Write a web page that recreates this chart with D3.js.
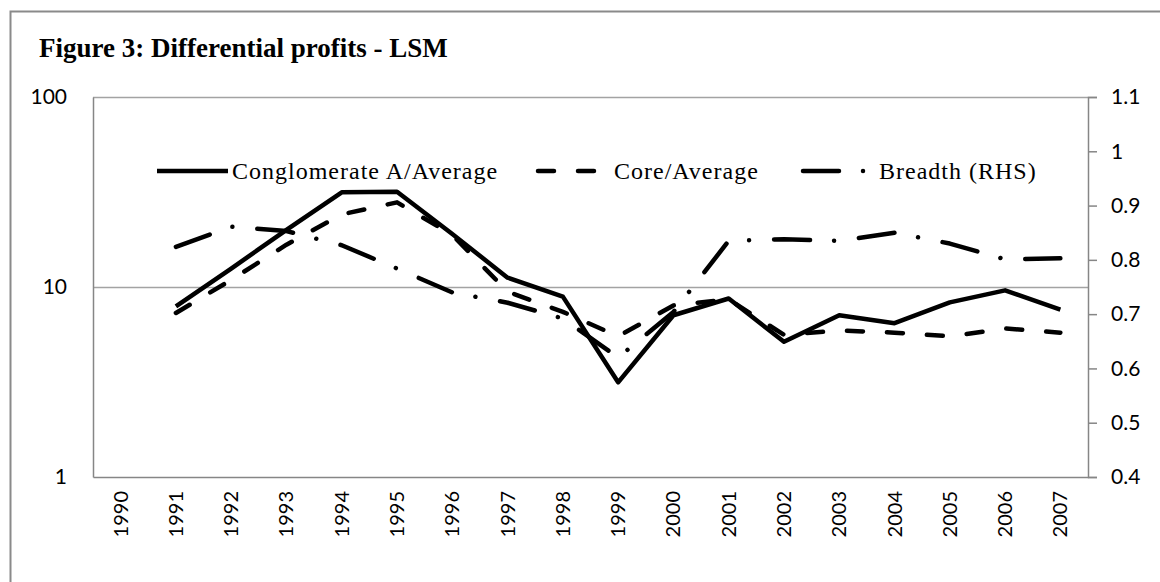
<!DOCTYPE html>
<html>
<head>
<meta charset="utf-8">
<script src="https://cdn.jsdelivr.net/npm/d3@7"></script>
<style>
  body { margin: 0; background: #fff; }
  svg { display: block; }
</style>
</head>
<body>
<div id="chart"></div>
<script>
// data
const years = ["1990","1991","1992","1993","1994","1995","1996","1997","1998",
               "1999","2000","2001","2002","2003","2004","2005","2006","2007"];
const conglomerate = [null, 7.9, 12.5, 20.0, 31.5, 31.7, 19.0, 11.2, 8.9, 3.15, 7.1, 8.7, 5.15, 7.1, 6.45, 8.3, 9.6, 7.6];
const core = [null, 7.3, 10.9, 16.7, 24.1, 27.9, 18.8, 9.45, 7.4, 5.5, 8.0, 8.6, 5.6, 5.9, 5.75, 5.5, 6.05, 5.75];
const breadth = [null, 0.824, 0.861, 0.853, 0.827, 0.784, 0.740, 0.721, 0.692, 0.620, 0.704, 0.835, 0.838, 0.835, 0.850, 0.830, 0.801, 0.803];
const leftTicks = [1, 10, 100];
const rightTicks = [0.4, 0.5, 0.6, 0.7, 0.8, 0.9, 1, 1.1];

const W = 1160, H = 582;
const plot = { left: 93, right: 1088, top: 97, bottom: 477 };
const axisGray = "#868686";
const sansFont = "Lato, 'Liberation Sans', sans-serif";
const serifFont = "'Liberation Serif', 'DejaVu Serif', serif";

const svg = d3.select("#chart").append("svg")
  .attr("width", W)
  .attr("height", H);

// outer frame
svg.append("rect")
  .attr("x", 10.5).attr("y", 11.5)
  .attr("width", 1300).attr("height", 800)
  .attr("fill", "none")
  .attr("stroke", "#8a8a8a")
  .attr("stroke-width", 2);

// title
svg.append("text")
  .attr("x", 39).attr("y", 57)
  .style("font-family", serifFont)
  .style("font-weight", "bold")
  .style("font-size", "27px")
  .text("Figure 3: Differential profits - LSM");

// scales
const x = d3.scaleBand().domain(years).range([plot.left, plot.right]).padding(0);
const yL = d3.scaleLog().domain([1, 100]).range([plot.bottom, plot.top]);
const yR = d3.scaleLinear().domain([0.4, 1.1]).range([plot.bottom, plot.top]);
const cx = d => x(d) + x.bandwidth() / 2;

// horizontal gridlines
svg.append("g")
  .selectAll("line")
  .data(leftTicks.filter(t => t > 1))
  .join("line")
  .attr("x1", plot.left).attr("x2", plot.right)
  .attr("y1", d => Math.round(yL(d)) + 0.5).attr("y2", d => Math.round(yL(d)) + 0.5)
  .attr("stroke", "#a3a3a3")
  .attr("stroke-width", 1.5);

// left axis (no ticks)
const gL = svg.append("g")
  .attr("transform", `translate(${plot.left},0)`)
  .call(d3.axisLeft(yL).tickValues(leftTicks).tickFormat(d3.format("d")).tickSize(0).tickPadding(26));
gL.select(".domain").attr("stroke", axisGray).attr("stroke-width", 1.5);
gL.selectAll("text")
  .style("font-family", sansFont).style("font-size", "21px").attr("fill", "#000");

// right axis
const gR = svg.append("g")
  .attr("transform", `translate(${plot.right},0)`)
  .call(d3.axisRight(yR).tickValues(rightTicks).tickFormat(d => String(d)).tickSizeOuter(0).tickSize(9).tickPadding(14));
gR.select(".domain").attr("stroke", axisGray).attr("stroke-width", 1.5);
gR.selectAll("line").attr("stroke", axisGray).attr("stroke-width", 1.5);
gR.selectAll("text")
  .style("font-family", sansFont).style("font-size", "21px").attr("fill", "#000");

// bottom axis with rotated year labels
const gB = svg.append("g")
  .attr("transform", `translate(0,${plot.bottom})`)
  .call(d3.axisBottom(x).tickSize(0).tickSizeOuter(0));
gB.select(".domain").attr("stroke", axisGray).attr("stroke-width", 1.5);
gB.selectAll("text")
  .attr("transform", "rotate(-90)")
  .attr("x", -14).attr("y", 0).attr("dy", "0.35em")
  .style("text-anchor", "end")
  .style("font-family", sansFont).style("font-size", "20px").attr("fill", "#000");

// series
const series = [
  { name: "Conglomerate A/Average", values: conglomerate, y: yL, dash: null },
  { name: "Core/Average", values: core, y: yL, dash: "16,24" },
  { name: "Breadth (RHS)", values: breadth, y: yR, dash: "36,24,0.01,25" }
];

series.forEach(s => {
  const line = d3.line()
    .defined(d => d.v != null)
    .x(d => cx(d.year))
    .y(d => s.y(d.v));
  svg.append("path")
    .datum(years.map((yr, i) => ({ year: yr, v: s.values[i] })))
    .attr("d", line)
    .attr("fill", "none")
    .attr("stroke", "#000")
    .attr("stroke-width", 4.5)
    .attr("stroke-linejoin", "round")
    .attr("stroke-linecap", s.dash ? "round" : "butt")
    .attr("stroke-dasharray", s.dash);
});

// legend
const legendY = 171;
const legendLine = [157, 538, 803];
const legendText = [232, 614, 879];
const legend = svg.append("g");
series.forEach((s, i) => {
  legend.append("line")
    .attr("x1", legendLine[i]).attr("x2", legendLine[i] + 71)
    .attr("y1", legendY).attr("y2", legendY)
    .attr("stroke", "#000")
    .attr("stroke-width", 4.5)
    .attr("stroke-linecap", s.dash ? "round" : "butt")
    .attr("stroke-dasharray", s.dash);
  legend.append("text")
    .attr("x", legendText[i]).attr("y", legendY).attr("dy", "0.33em")
    .style("font-family", serifFont)
    .style("font-size", "24px")
    .style("letter-spacing", "1px")
    .text(s.name);
});
</script>
</body>
</html>
